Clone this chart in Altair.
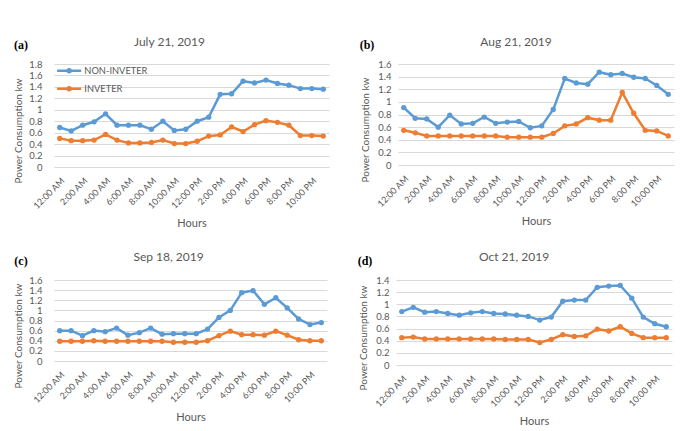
import altair as alt
import pandas as pd

hours = ["12:00 AM", "1:00 AM", "2:00 AM", "3:00 AM", "4:00 AM", "5:00 AM",
         "6:00 AM", "7:00 AM", "8:00 AM", "9:00 AM", "10:00 AM", "11:00 AM",
         "12:00 PM", "1:00 PM", "2:00 PM", "3:00 PM", "4:00 PM", "5:00 PM",
         "6:00 PM", "7:00 PM", "8:00 PM", "9:00 PM", "10:00 PM", "11:00 PM"]
tick_labels = hours[::2]
series_names = ["NON-INVETER", "INVETER"]

a_non = [0.69, 0.63, 0.73, 0.79, 0.93, 0.73, 0.73, 0.73, 0.66, 0.80, 0.64, 0.66,
         0.80, 0.87, 1.27, 1.28, 1.50, 1.47, 1.52, 1.46, 1.43, 1.37, 1.37, 1.36]
a_inv = [0.50, 0.46, 0.46, 0.47, 0.57, 0.47, 0.42, 0.42, 0.43, 0.47, 0.41, 0.41,
         0.45, 0.54, 0.56, 0.70, 0.62, 0.74, 0.81, 0.78, 0.73, 0.55, 0.55, 0.54]
b_non = [0.91, 0.74, 0.73, 0.60, 0.79, 0.65, 0.66, 0.76, 0.66, 0.68, 0.69, 0.59,
         0.62, 0.88, 1.37, 1.30, 1.28, 1.47, 1.43, 1.45, 1.39, 1.37, 1.26, 1.12]
b_inv = [0.55, 0.51, 0.46, 0.46, 0.46, 0.46, 0.46, 0.46, 0.46, 0.44, 0.44, 0.44,
         0.44, 0.50, 0.62, 0.65, 0.75, 0.71, 0.71, 1.15, 0.82, 0.55, 0.54, 0.46]
c_non = [0.60, 0.60, 0.50, 0.60, 0.58, 0.65, 0.51, 0.56, 0.65, 0.53, 0.54, 0.54,
         0.54, 0.63, 0.86, 1.00, 1.35, 1.39, 1.12, 1.25, 1.05, 0.83, 0.72, 0.76]
c_inv = [0.39, 0.39, 0.39, 0.40, 0.39, 0.39, 0.39, 0.39, 0.39, 0.39, 0.37, 0.37,
         0.37, 0.40, 0.50, 0.59, 0.52, 0.52, 0.51, 0.59, 0.51, 0.42, 0.40, 0.40]
d_non = [0.88, 0.95, 0.87, 0.88, 0.85, 0.82, 0.86, 0.88, 0.85, 0.84, 0.82, 0.80,
         0.74, 0.79, 1.05, 1.07, 1.07, 1.28, 1.30, 1.31, 1.10, 0.79, 0.68, 0.63]
d_inv = [0.45, 0.46, 0.43, 0.43, 0.43, 0.43, 0.43, 0.43, 0.43, 0.42, 0.42, 0.42,
         0.37, 0.42, 0.50, 0.47, 0.48, 0.59, 0.56, 0.63, 0.52, 0.45, 0.45, 0.45]

BLUE = "#5B9BD5"
ORANGE = "#ED7D31"
TXT = "#595959"
FONT = "Lato"
LEG_SYMBOL = "M-12,0L12,0M-1.5,0A1.5,1.5 0 1,0 1.5,0A1.5,1.5 0 1,0 -1.5,0"


def panel(title, tag, non, inv, ymax, w, h, title_dx, title_off, lab_pad, ttl_pad,
          tag_x, legend=False):
    df = pd.DataFrame({
        "Hour": hours * 2,
        "idx": list(range(24)) * 2,
        "Power": non + inv,
        "Series": [series_names[0]] * 24 + [series_names[1]] * 24,
    })
    n = int(round(ymax / 0.2))
    yvals = [round(i * 0.2, 1) for i in range(n + 1)]
    if legend:
        leg = alt.Legend(orient="none", legendX=1, legendY=2, title=None,
                         symbolType=LEG_SYMBOL, symbolSize=4,
                         symbolStrokeWidth=2.5, symbolOffset=9.5,
                         labelOffset=10.5, labelFont=FONT, labelFontSize=9.3,
                         labelColor=TXT, rowPadding=4, padding=0)
    else:
        leg = None
    lines = alt.Chart(df).mark_line(
        strokeWidth=2.5,
        point=alt.OverlayMarkDef(filled=True, size=28, opacity=1),
    ).encode(
        x=alt.X("Hour:N", sort=hours,
                scale=alt.Scale(type="point", padding=0.5),
                axis=alt.Axis(values=tick_labels, labelAngle=-45, grid=False,
                              labelPadding=9, titlePadding=7,
                              labelFontSize=9, titleFontSize=11),
                title="Hours"),
        y=alt.Y("Power:Q", scale=alt.Scale(domain=[0, ymax], nice=False),
                axis=alt.Axis(values=yvals, format=".1~f", grid=True,
                              labelPadding=lab_pad, titlePadding=ttl_pad,
                              titleY=h / 2 + 15,
                              labelFontSize=9.5, titleFontSize=10),
                title="Power Consumption kw"),
        color=alt.Color("Series:N",
                        scale=alt.Scale(domain=series_names, range=[BLUE, ORANGE]),
                        legend=leg),
        order=alt.Order("idx:Q"),
    )
    tag_df = pd.DataFrame({"t": [tag]})
    tag_txt = alt.Chart(tag_df).mark_text(
        font="Liberation Serif", fontSize=12, fontWeight="bold", color="black"
    ).encode(text="t:N", x=alt.value(tag_x), y=alt.value(-19))
    return alt.layer(lines, tag_txt).properties(
        width=w, height=h,
        title=alt.TitleParams(title, font=FONT, fontSize=12, fontWeight="normal",
                              color=TXT, offset=title_off, dx=title_dx,
                              anchor="middle", frame="group"),
    )


pa = panel("July 21, 2019", "(a)", a_non, a_inv, 1.8, 275, 103, -22, -10, 12, 5, -33, legend=True)
pb = panel("Aug 21, 2019", "(b)", b_non, b_inv, 1.6, 276, 101, -20, -10, 7, 7, -31)
pc = panel("Sep 18, 2019", "(c)", c_non, c_inv, 1.6, 273, 81, -22, -9, 12, 5, -33)
pd_ = panel("Oct 21, 2019", "(d)", d_non, d_inv, 1.4, 276, 85, -20, -9, 7, 7, -31)

chart = alt.vconcat(
    alt.hconcat(pa, pb, spacing=30),
    alt.hconcat(pc, pd_, spacing=30),
    spacing=22,
).resolve_scale(color="independent").resolve_legend(color="independent").properties(
    padding={"left": 5, "top": 28, "right": 5, "bottom": 5},
    background="white",
).configure_view(stroke=None).configure_axis(
    labelFont=FONT, titleFont=FONT, labelColor=TXT, titleColor=TXT,
    titleFontWeight="normal", domain=False, ticks=False, gridColor="#D9D9D9",
    gridWidth=1,
)

chart.save("out.html", embed_options={"renderer": "svg", "actions": False})
